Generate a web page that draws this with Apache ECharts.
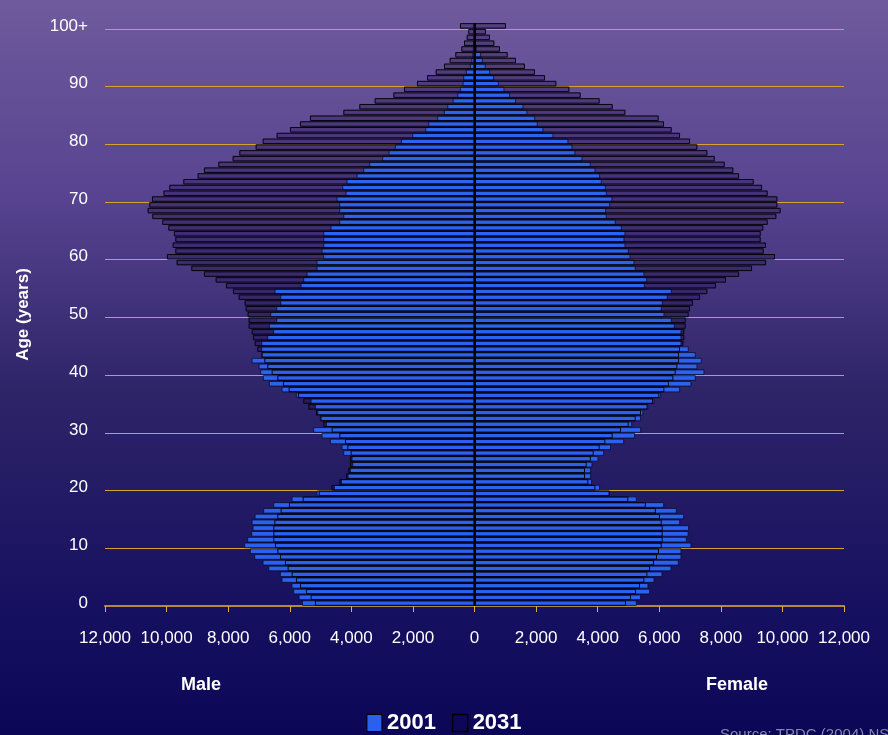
<!DOCTYPE html>
<html>
<head>
<meta charset="utf-8">
<title>Population pyramid 2001 / 2031</title>
<script src="https://cdn.jsdelivr.net/npm/echarts@6/dist/echarts.min.js"></script>
<style>
	html, body { margin: 0; padding: 0; }
	#main { width: 888px; height: 735px; }
</style>
</head>
<body>
<div id="main"></div>
<script>
//ages 0..100+
var ages = [];
for(var i = 0; i < 100; i++) {
	ages.push(String(i));
}
ages.push('100+');

//2001 male, age 0 -> 100+
var male2001 = [5600, 5710, 5884, 5938, 6264, 6318, 6696, 6880, 7151, 7292,
	7476, 7378, 7248, 7205, 7237, 7140, 6860, 6534, 5938, 5126,
	4563, 4336, 4120, 4044, 3968, 3989, 4260, 4314, 4693, 4964,
	5235, 4823, 5018, 5105, 5181, 5321, 5798, 6263, 6675, 6870,
	6956, 7010, 7237, 6924, 6924, 6924, 6729, 6534, 6675, 6437,
	6631, 6437, 6307, 6307, 6491, 5646, 5560, 5451, 5126, 5126,
	4910, 4964, 4910, 4910, 4910, 4672, 4390, 4260, 4390, 4390,
	4477, 4185, 4293, 4152, 3827, 3611, 3416, 2994, 2788, 2582,
	2387, 2019, 1597, 1500, 1207, 991, 882, 709, 558, 471,
	384, 363, 276, 146, 100, 70, 50, 35, 25, 20,
	30];

//2031 male
var male2031 = [5181, 5321, 5473, 5668, 5798, 5938, 6068, 6155, 6318, 6404,
	6480, 6534, 6534, 6534, 6502, 6404, 6296, 6025, 5581, 5060,
	4640, 4390, 4174, 4098, 4044, 4044, 4022, 4130, 4206, 4390,
	4639, 4910, 5000, 5148, 5397, 5560, 5733, 6036, 6220, 6404,
	6588, 6729, 6826, 6913, 7054, 7140, 7194, 7237, 7335, 7335,
	7368, 7432, 7465, 7660, 7844, 8071, 8407, 8786, 9197, 9674,
	9988, 9717, 9803, 9717, 9760, 9944, 10139, 10464, 10616, 10561,
	10475, 10100, 9912, 9457, 8992, 8786, 8320, 7855, 7638, 7108,
	6880, 6426, 5993, 5668, 5343, 4260, 3741, 3243, 2636, 2290,
	1868, 1543, 1261, 991, 807, 623, 428, 341, 254, 200,
	471];

//2001 female
var female2001 = [5267, 5408, 5700, 5646, 5841, 6100, 6393, 6632, 6718, 6718,
	7043, 6892, 6950, 6967, 6675, 6805, 6567, 6155, 5267, 4380,
	4076, 3816, 3784, 3784, 3827, 4022, 4206, 4430, 4856, 5213,
	5410, 5116, 5400, 5480, 5646, 5840, 6058, 6675, 7043, 7184,
	7465, 7238, 7378, 7184, 6956, 6718, 6718, 6718, 6501, 6404,
	6166, 6079, 6112, 6274, 6404, 5527, 5603, 5516, 5235, 5191,
	5062, 5007, 4899, 4866, 4899, 4780, 4585, 4293, 4271, 4401,
	4477, 4293, 4260, 4130, 4076, 3925, 3773, 3502, 3275, 3178,
	3048, 2561, 2236, 2052, 1965, 1716, 1586, 1348, 1153, 969,
	785, 633, 503, 363, 265, 211, 70, 40, 30, 20,
	30];

//2031 female
var female2031 = [4921, 5083, 5246, 5375, 5516, 5613, 5700, 5830, 5927, 5992,
	6080, 6112, 6112, 6112, 6080, 6025, 5890, 5565, 4996, 4400,
	3925, 3697, 3589, 3589, 3643, 3780, 3870, 4065, 4249, 4488,
	4758, 5007, 5235, 5408, 5620, 5800, 6003, 6166, 6317, 6458,
	6534, 6588, 6642, 6642, 6675, 6783, 6815, 6815, 6859, 6859,
	6956, 7000, 7097, 7324, 7562, 7844, 8169, 8591, 9013, 9468,
	9760, 9392, 9468, 9295, 9295, 9381, 9522, 9803, 9944, 9836,
	9836, 9522, 9338, 9067, 8591, 8407, 8126, 7801, 7562, 7238,
	7000, 6675, 6404, 6155, 5982, 4899, 4488, 4065, 3448, 3080,
	2658, 2290, 1965, 1640, 1348, 1077, 828, 644, 503, 374,
	1023];

//male goes to the left
function neg(arr) {
	return arr.map(function(v) {
		return -v;
	});
}

//12000 -> "12,000"
function fmt(v) {
	v = Math.abs(v);
	return String(v).replace(/\B(?=(\d{3})+(?!\d))/g, ',');
}

var blue = '#2c66f6';
var gold = '#d4a32e';
var font = '"Liberation Sans", Arial, sans-serif';

//grid lines at 0,10,...,100 ; the last one (top edge of the grid) hidden
var gridColors = [];
for(var g = 0; g < 11; g++) {
	gridColors.push(gold);
}
gridColors.push('rgba(0,0,0,0)');

var myChart = echarts.init(document.getElementById('main'));

var barBase = {
	type: 'bar',
	barGap: '-100%',
	barCategoryGap: '5%',
	silent: true
};

function bar(name, data, itemStyle, extra) {
	var s = Object.assign({}, barBase, {
		name: name,
		data: data,
		itemStyle: itemStyle
	});
	return Object.assign(s, extra || {});
}

var fill2031 = { color: 'rgba(30, 10, 60, 0.3)', borderWidth: 0 };
var style2001 = { color: blue, opacity: 0.94, borderColor: '#0a0a26', borderWidth: 0.8 };
var line2031 = { color: 'rgba(0,0,0,0)', borderColor: '#050510', borderWidth: 1 };

var option = {
	backgroundColor: {
		type: 'linear', x: 0, y: 0, x2: 0, y2: 1,
		colorStops: [
			{ offset: 0, color: '#6f5a9c' },
			{ offset: 0.27, color: '#574390' },
			{ offset: 0.53, color: '#2e2468' },
			{ offset: 0.83, color: '#161060' },
			{ offset: 1, color: '#0b0756' }
		]
	},
	animation: false,
	grid: {
		left: 105,
		right: 44,
		top: 23,
		bottom: 129
	},
	legend: {
		left: 'center',
		top: 707,
		itemWidth: 15,
		itemHeight: 17,
		itemGap: 16,
		textStyle: {
			color: '#fff',
			fontSize: 22,
			fontWeight: 'bold',
			fontFamily: font
		},
		data: [{
			name: '2001',
			icon: 'rect',
			itemStyle: { color: blue, borderColor: '#000', borderWidth: 1 }
		}, {
			name: '2031',
			icon: 'rect',
			itemStyle: { color: 'rgba(0,0,0,0)', borderColor: '#000', borderWidth: 1.5 }
		}]
	},
	xAxis: {
		type: 'value',
		min: -12000,
		max: 12000,
		interval: 2000,
		axisLine: {
			show: true,
			onZero: false,
			lineStyle: { color: '#b08a34', width: 2 }
		},
		axisTick: {
			show: true,
			length: 6,
			lineStyle: { color: '#d8b23c', width: 1 }
		},
		axisLabel: {
			color: '#fff',
			fontSize: 17,
			fontFamily: font,
			margin: 24,
			formatter: fmt
		},
		splitLine: { show: false }
	},
	yAxis: {
		type: 'category',
		data: ages,
		name: 'Age (years)',
		nameLocation: 'middle',
		nameGap: 73,
		nameRotate: 90,
		nameTextStyle: {
			color: '#fff',
			fontSize: 17,
			fontWeight: 'bold',
			fontFamily: font
		},
		axisLine: { show: false },
		axisTick: { show: false, interval: 9 },
		axisLabel: {
			interval: 9,
			color: '#fff',
			fontSize: 17,
			fontFamily: font,
			margin: 17
		},
		splitLine: {
			show: true,
			interval: 9,
			lineStyle: { color: gridColors, width: 1 }
		}
	},
	graphic: [{
		type: 'text',
		left: 181,
		top: 676,
		style: { text: 'Male', fill: '#fff', font: 'bold 18px ' + font }
	}, {
		type: 'text',
		left: 706,
		top: 676,
		style: { text: 'Female', fill: '#fff', font: 'bold 18px ' + font }
	}, {
		type: 'text',
		left: 720,
		top: 727,
		style: { text: 'Source: TPDC (2004) NSW', fill: '#8587ad', font: '15px ' + font }
	}],
	series: [
		bar('2031', neg(male2031), fill2031),
		bar('2031', female2031, fill2031),
		bar('2001', neg(male2001), style2001),
		bar('2001', female2001, style2001),
		bar('2031', neg(male2031), line2031),
		bar('2031', female2031, line2031, {
			//center line
			markLine: {
				silent: true,
				symbol: 'none',
				label: { show: false },
				lineStyle: { color: '#000', width: 2, type: 'solid' },
				data: [{ xAxis: 0 }]
			}
		})
	]
};

myChart.setOption(option);
</script>
</body>
</html>
